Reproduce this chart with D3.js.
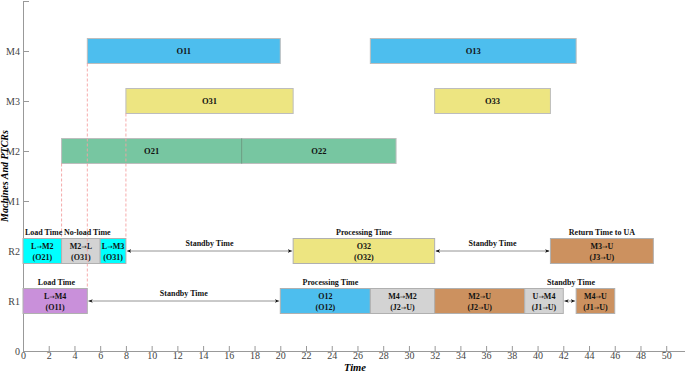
<!DOCTYPE html>
<html>
<head>
<meta charset="utf-8">
<script src="https://cdn.jsdelivr.net/npm/d3@7"></script>
<style>
  body { margin: 0; background: #fff; }
  svg text { font-family: "Liberation Serif", "Times New Roman", serif; }
</style>
</head>
<body>
<svg id="chart" width="685" height="372"></svg>
<script>
const rowLabels = ['0', 'R1', 'R2', 'M1', 'M2', 'M3', 'M4', ''];
const xTicks = d3.range(0, 51, 2);

// machine operations: row, start, end, label, color
const machineOps = [
  { row: 'M4', start: 5, end: 20, label: 'O11', fill: '#4dbeee' },
  { row: 'M4', start: 27, end: 43, label: 'O13', fill: '#4dbeee' },
  { row: 'M3', start: 8, end: 21, label: 'O31', fill: '#ede581' },
  { row: 'M3', start: 32, end: 41, label: 'O33', fill: '#ede581' },
  { row: 'M2', start: 3, end: 17, label: 'O21', fill: '#77c6a1' },
  { row: 'M2', start: 17, end: 29, label: 'O22', fill: '#77c6a1' }
];

// robot (PTCR) tasks
const robotOps = [
  { row: 'R2', start: 0, end: 3, top: 'L→M2', sub: '(O21)', fill: '#00ffff' },
  { row: 'R2', start: 3, end: 6, top: 'M2→L', sub: '(O31)', fill: '#d3d3d3' },
  { row: 'R2', start: 6, end: 8, top: 'L→M3', sub: '(O31)', fill: '#00ffff' },
  { row: 'R2', start: 21, end: 32, top: 'O32', sub: '(O32)', fill: '#ede581' },
  { row: 'R2', start: 41, end: 49, top: 'M3→U', sub: '(J3→U)', fill: '#cc915f' },
  { row: 'R1', start: 0, end: 5, top: 'L→M4', sub: '(O11)', fill: '#c990da' },
  { row: 'R1', start: 20, end: 27, top: 'O12', sub: '(O12)', fill: '#4dbeee' },
  { row: 'R1', start: 27, end: 32, top: 'M4→M2', sub: '(J2→U)', fill: '#d3d3d3' },
  { row: 'R1', start: 32, end: 39, top: 'M2→U', sub: '(J2→U)', fill: '#cc915f' },
  { row: 'R1', start: 39, end: 42, top: 'U→M4', sub: '(J1→U)', fill: '#d3d3d3' },
  { row: 'R1', start: 43, end: 46, top: 'M4→U', sub: '(J1→U)', fill: '#cc915f' }
];

// standby arrows
const standby = [
  { row: 'R2', start: 8, end: 21 },
  { row: 'R2', start: 32, end: 41 },
  { row: 'R1', start: 5, end: 20 },
  { row: 'R1', start: 42, end: 43 }
];

// text notes above robot rows
const notes = [
  { row: 'R2', at: 1.6, text: 'Load Time' },
  { row: 'R2', at: 5.0, text: 'No-load Time' },
  { row: 'R2', at: 14.5, text: 'Standby Time', mid: true },
  { row: 'R2', at: 26.5, text: 'Processing Time' },
  { row: 'R2', at: 36.5, text: 'Standby Time', mid: true },
  { row: 'R2', at: 45, text: 'Return Time to UA' },
  { row: 'R1', at: 2.6, text: 'Load Time' },
  { row: 'R1', at: 12.5, text: 'Standby Time', mid: true },
  { row: 'R1', at: 23.9, text: 'Processing Time' },
  { row: 'R1', at: 42.6, text: 'Standby Time' }
];

// red dashed guides: x, from row (bottom of bar), to row (top of bar)
const guides = [
  { x: 3, from: 'M2', to: 'R2' },
  { x: 5, from: 'M4', to: 'R1' },
  { x: 8, from: 'M3', to: 'R2' }
];

const svg = d3.select('#chart');
const x = d3.scaleLinear().domain([0, 51.5]).range([23, 685.5]);
const y = d3.scaleLinear().domain([0, 7]).range([351, 1]);
const rowY = (r) => y(rowLabels.indexOf(r));
const half = 12.5;

// write a label, putting each arrow in its own narrow tspan
function arrowText(sel, str) {
  const parts = str.split('→');
  parts.forEach((p, i) => {
    if (i > 0) sel.append('tspan').style('font-family', '"DejaVu Sans"').style('font-size', '6.5px')
      .style('font-weight', 'normal').text('→');
    sel.append('tspan').text(p);
  });
}

// defs for arrowheads
const defs = svg.append('defs');
defs.append('marker').attr('id', 'ah').attr('viewBox', '0 0 10 10')
  .attr('refX', 10).attr('refY', 5).attr('markerWidth', 5).attr('markerHeight', 5)
  .attr('orient', 'auto-start-reverse')
  .append('path').attr('d', 'M0,1 L10,5 L0,9 L3,5 Z').attr('fill', '#111');

// axes
const xAxis = svg.append('g').attr('transform', `translate(0,${y(0)})`)
  .call(d3.axisBottom(x).tickValues(xTicks).tickSizeInner(-5).tickSizeOuter(0).tickPadding(1));
const yAxis = svg.append('g').attr('transform', `translate(${x(0)},0)`)
  .call(d3.axisLeft(y).tickValues(d3.range(0, 8)).tickFormat((d) => rowLabels[d])
    .tickSizeInner(-6).tickSizeOuter(0).tickPadding(3));
[xAxis, yAxis].forEach((a) => {
  a.select('.domain').attr('stroke', '#999');
  a.selectAll('.tick line').attr('stroke', '#999');
  a.selectAll('.tick text').attr('fill', '#444').style('font-size', '10px');
});

svg.append('text').attr('x', 355).attr('y', 371).attr('text-anchor', 'middle')
  .style('font-size', '10.5px').style('font-weight', 'bold').style('font-style', 'italic')
  .text('Time');
svg.append('text').attr('transform', 'translate(7.5,176) rotate(-90)').attr('text-anchor', 'middle')
  .style('font-size', '10px').style('font-weight', 'bold').style('font-style', 'italic')
  .text('Machines And PTCRs');

// machine bars
const mg = svg.append('g').selectAll('g').data(machineOps).join('g');
mg.append('rect')
  .attr('x', (d) => x(d.start)).attr('width', (d) => x(d.end) - x(d.start))
  .attr('y', (d) => rowY(d.row) - half).attr('height', half * 2)
  .attr('fill', (d) => d.fill).attr('stroke', '#bdbdbd').attr('stroke-width', 1);
mg.append('text')
  .attr('x', (d) => (x(d.start) + x(d.end)) / 2).attr('y', (d) => rowY(d.row) + 3)
  .attr('text-anchor', 'middle').style('font-size', '8.5px').style('font-weight', 'bold')
  .attr('fill', '#111').text((d) => d.label);
// divider between O21 and O22
svg.append('line').attr('x1', x(17)).attr('x2', x(17))
  .attr('y1', rowY('M2') - half).attr('y2', rowY('M2') + half)
  .attr('stroke', '#5a9e7c').attr('stroke-width', 1);

// robot bars
const rg = svg.append('g').selectAll('g').data(robotOps).join('g');
rg.append('rect')
  .attr('x', (d) => x(d.start)).attr('width', (d) => x(d.end) - x(d.start))
  .attr('y', (d) => rowY(d.row) - half).attr('height', half * 2)
  .attr('fill', (d) => d.fill).attr('stroke', '#b0b0b0').attr('stroke-width', 1);
rg.append('text')
  .attr('x', (d) => (x(d.start) + x(d.end)) / 2).attr('y', (d) => rowY(d.row) - 2)
  .attr('text-anchor', 'middle').style('font-size', '8px').style('font-weight', 'bold')
  .attr('fill', '#111').each(function (d) { arrowText(d3.select(this), d.top); });
rg.append('text')
  .attr('x', (d) => (x(d.start) + x(d.end)) / 2).attr('y', (d) => rowY(d.row) + 9)
  .attr('text-anchor', 'middle').style('font-size', '8px').style('font-weight', 'bold')
  .attr('fill', '#111').each(function (d) { arrowText(d3.select(this), d.sub); });

// dashed guides, drawn over the bars
svg.append('g').selectAll('line').data(guides).join('line')
  .attr('x1', (d) => x(d.x)).attr('x2', (d) => x(d.x))
  .attr('y1', (d) => rowY(d.from) + half).attr('y2', (d) => rowY(d.to) - half)
  .attr('stroke', '#f4a0a0').attr('stroke-width', 0.9).attr('stroke-dasharray', '3,2');

// standby arrows
svg.append('g').selectAll('line').data(standby).join('line')
  .attr('x1', (d) => x(d.start) + 1).attr('x2', (d) => x(d.end) - 1)
  .attr('y1', (d) => rowY(d.row)).attr('y2', (d) => rowY(d.row))
  .attr('stroke', '#888').attr('stroke-width', 0.9)
  .attr('marker-start', 'url(#ah)').attr('marker-end', 'url(#ah)');

// notes
svg.append('g').selectAll('text').data(notes).join('text')
  .attr('x', (d) => x(d.at))
  .attr('y', (d) => d.mid ? rowY(d.row) - 5 : rowY(d.row) - half - 4)
  .attr('text-anchor', 'middle').style('font-size', '8px').style('font-weight', 'bold')
  .attr('fill', '#111').text((d) => d.text);
</script>
</body>
</html>
